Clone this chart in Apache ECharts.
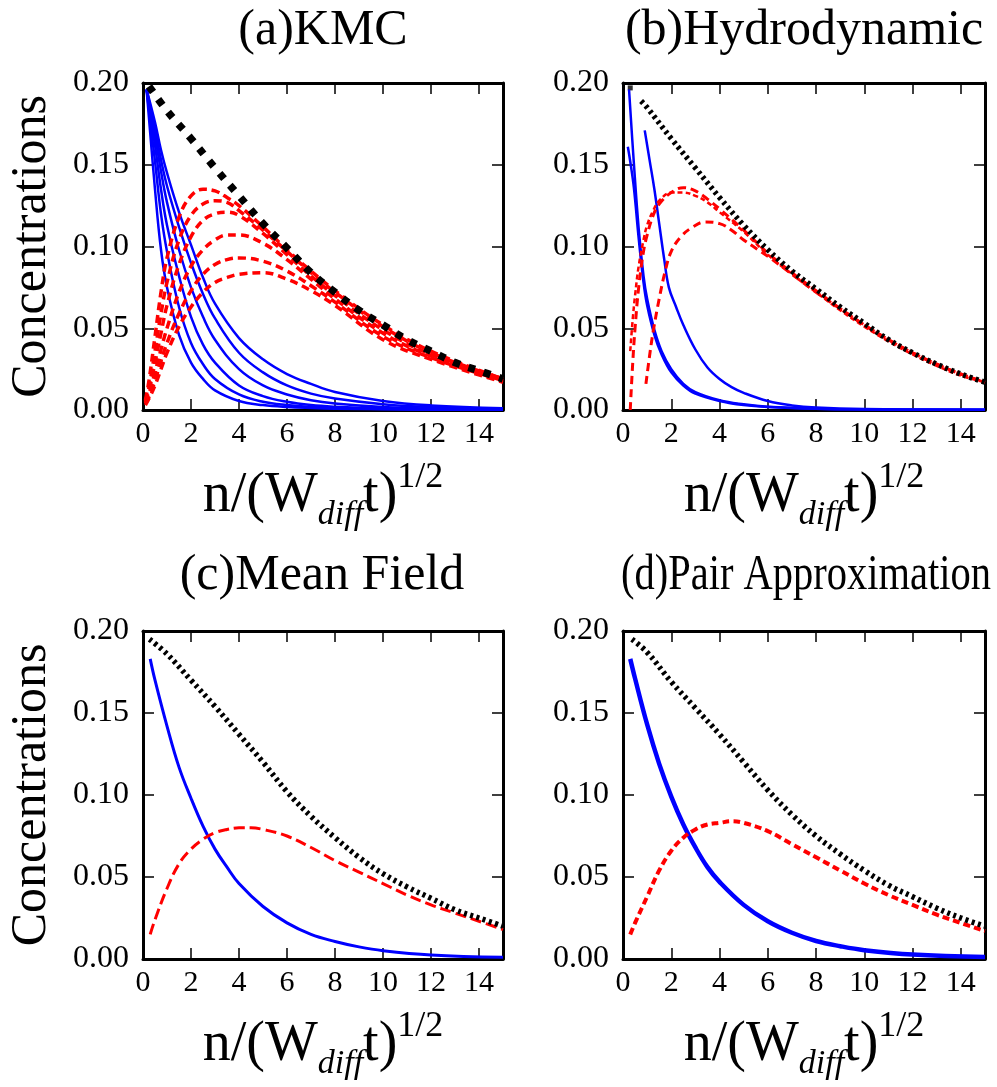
<!DOCTYPE html>
<html>
<head>
<meta charset="utf-8">
<script src="https://cdn.jsdelivr.net/npm/echarts@6/dist/echarts.min.js"></script>
<style>
html,body{margin:0;padding:0;background:#fff;}
#chart{width:997px;height:1087px;}
</style>
</head>
<body>
<div id="chart"></div>
<script>
// ---------- Panel titles and axis text ----------
const panelTitles = ['(a)KMC', '(b)Hydrodynamic', '(c)Mean Field', '(d)Pair Approximation'];
const yAxisTitle = 'Concentrations';
const xAxisTitle = '{a|n/(W}{s|diff}{a|t)}{p|1/2}';

// ---------- (a) KMC ----------
const aBlueX = [0.15, 0.5, 0.75, 1, 1.5, 2, 2.5, 3, 4, 5, 6, 7, 8, 10, 12, 15];
const aBlue1 = [0.196, 0.135, 0.098, 0.075, 0.046, 0.029, 0.019, 0.012, 0.0055, 0.003, 0.0018, 0.0012, 0.0008, 0.0004, 0.0002, 0.0001];
const aBlue2 = [0.196, 0.152, 0.120, 0.097, 0.063, 0.041, 0.028, 0.019, 0.0095, 0.005, 0.003, 0.002, 0.0013, 0.0006, 0.0003, 0.0001];
const aBlue3 = [0.196, 0.162, 0.135, 0.113, 0.082, 0.057, 0.040, 0.029, 0.015, 0.0085, 0.005, 0.003, 0.002, 0.0009, 0.0004, 0.0002];
const aBlue4 = [0.196, 0.168, 0.146, 0.127, 0.098, 0.075, 0.057, 0.043, 0.025, 0.015, 0.0095, 0.006, 0.004, 0.0018, 0.0008, 0.0003];
const aBlue5 = [0.196, 0.172, 0.153, 0.137, 0.112, 0.090, 0.071, 0.056, 0.035, 0.023, 0.015, 0.010, 0.007, 0.0035, 0.0017, 0.0006];
const aBlue6 = [0.196, 0.176, 0.159, 0.145, 0.121, 0.101, 0.081, 0.065, 0.044, 0.031, 0.022, 0.016, 0.011, 0.0055, 0.0028, 0.001];

const aRedX = [0.1, 0.25, 0.5, 0.75, 1, 1.5, 2, 2.5, 3, 3.5, 4, 5, 6, 7, 8, 10, 12, 15];
const aRed1 = [0.006, 0.018, 0.045, 0.072, 0.093, 0.118, 0.131, 0.135, 0.134, 0.130, 0.125, 0.112, 0.098, 0.085, 0.073, 0.052, 0.036, 0.019];
const aRed2 = [0.005, 0.014, 0.036, 0.059, 0.078, 0.104, 0.119, 0.126, 0.128, 0.127, 0.122, 0.110, 0.097, 0.084, 0.072, 0.051, 0.035, 0.019];
const aRed3 = [0.005, 0.012, 0.029, 0.047, 0.064, 0.089, 0.106, 0.116, 0.120, 0.121, 0.119, 0.108, 0.095, 0.082, 0.070, 0.049, 0.034, 0.019];
const aRed4 = [0.004, 0.010, 0.023, 0.037, 0.050, 0.072, 0.088, 0.098, 0.104, 0.107, 0.107, 0.102, 0.092, 0.080, 0.068, 0.047, 0.033, 0.018];
const aRed5 = [0.004, 0.008, 0.018, 0.030, 0.041, 0.059, 0.073, 0.083, 0.089, 0.092, 0.093, 0.091, 0.085, 0.076, 0.066, 0.045, 0.032, 0.018];
const aRed6 = [0.003, 0.007, 0.015, 0.025, 0.035, 0.051, 0.063, 0.072, 0.078, 0.081, 0.083, 0.084, 0.080, 0.073, 0.064, 0.043, 0.031, 0.017];

const aBlackX = [0.25, 1, 2, 3, 4, 5, 6, 7, 8, 9, 10, 11, 12, 13, 14, 15];
const aBlack  = [0.198, 0.183, 0.166, 0.148, 0.131, 0.114, 0.099, 0.084, 0.072, 0.061, 0.052, 0.043, 0.036, 0.029, 0.024, 0.019];

// ---------- (b) Hydrodynamic ----------
const bBlue1X = [0.25, 0.45, 0.65, 0.85, 1, 1.3, 1.6, 2, 2.5, 3, 4, 5, 6, 8, 10, 15];
const bBlue1  = [0.196, 0.151, 0.111, 0.082, 0.068, 0.049, 0.036, 0.025, 0.016, 0.011, 0.006, 0.0035, 0.002, 0.0008, 0.0004, 0.0001];
const bBlue2X = [0.2, 0.3, 0.45, 0.65, 0.85, 1, 1.3, 1.6, 2, 2.5, 3, 4, 5, 6, 8, 10, 15];
const bBlue2  = [0.161, 0.152, 0.136, 0.105, 0.078, 0.064, 0.046, 0.034, 0.023, 0.015, 0.010, 0.0055, 0.003, 0.0018, 0.0007, 0.0003, 0.0001];
const bBlue3X = [0.9, 1.1, 1.3, 1.5, 1.7, 1.9, 2.2, 2.5, 3, 3.5, 4, 4.5, 5, 6, 7, 8, 10, 15];
const bBlue3  = [0.171, 0.153, 0.135, 0.114, 0.093, 0.075, 0.063, 0.052, 0.037, 0.026, 0.019, 0.014, 0.0105, 0.0055, 0.0028, 0.0015, 0.0006, 0.0001];

const bRed12X = [0.3, 0.4, 0.5, 0.65, 0.85, 1, 1.25, 1.5, 2, 2.5, 3, 3.5, 4, 5, 6, 7, 8, 9, 10, 11, 12, 13, 14, 15];
const bRed1   = [0.0, 0.028, 0.05, 0.075, 0.097, 0.107, 0.119, 0.126, 0.133, 0.136, 0.134, 0.129, 0.123, 0.110, 0.096, 0.084, 0.073, 0.062, 0.052, 0.043, 0.035, 0.028, 0.022, 0.017];
const bRed2   = [0.036, 0.055, 0.070, 0.088, 0.104, 0.113, 0.122, 0.128, 0.133, 0.133, 0.131, 0.127, 0.121, 0.109, 0.095, 0.083, 0.072, 0.061, 0.051, 0.042, 0.034, 0.027, 0.021, 0.017];
const bRed3X  = [0.95, 1.1, 1.25, 1.5, 1.75, 2, 2.4, 2.9, 3.4, 4, 4.5, 5, 6, 7, 8, 9, 10, 11, 12, 13, 14, 15];
const bRed3   = [0.016, 0.033, 0.048, 0.068, 0.085, 0.097, 0.106, 0.112, 0.115, 0.114, 0.110, 0.104, 0.094, 0.083, 0.072, 0.062, 0.052, 0.043, 0.035, 0.028, 0.022, 0.017];

const bBlackStart = [[0.3, 0.197]];
const bBlackX = [0.75, 1, 2, 3, 4, 5, 6, 7, 8, 9, 10, 11, 12, 13, 14, 15];
const bBlack  = [0.189, 0.185, 0.166, 0.148, 0.130, 0.113, 0.098, 0.085, 0.074, 0.063, 0.053, 0.043, 0.035, 0.028, 0.022, 0.017];

// ---------- (c) Mean Field ----------
const cBlueX = [0.3, 0.5, 1, 1.5, 2, 2.5, 3, 3.5, 4, 5, 6, 7, 8, 9, 10, 12, 15];
const cBlue  = [0.183, 0.170, 0.142, 0.117, 0.098, 0.081, 0.067, 0.056, 0.046, 0.032, 0.022, 0.015, 0.0107, 0.0074, 0.0051, 0.0025, 0.001];
const cRedX  = [0.3, 0.5, 1, 1.5, 2, 2.5, 3, 3.5, 4, 4.5, 5, 6, 7, 8, 9, 10, 11, 12, 13, 14, 15];
const cRed   = [0.015, 0.024, 0.043, 0.058, 0.067, 0.073, 0.077, 0.079, 0.080, 0.080, 0.079, 0.075, 0.068, 0.060, 0.053, 0.046, 0.039, 0.033, 0.028, 0.023, 0.018];
const cBlackX = [0.27, 1, 2, 3, 4, 5, 6, 7, 8, 9, 10, 11, 12, 13, 14, 15];
const cBlack  = [0.195, 0.186, 0.170, 0.154, 0.137, 0.120, 0.102, 0.087, 0.074, 0.062, 0.052, 0.044, 0.037, 0.030, 0.025, 0.020];

// ---------- (d) Pair Approximation ----------
const dBlueX = [0.3, 0.5, 1, 1.5, 2, 2.5, 3, 3.5, 4, 5, 6, 7, 8, 9, 10, 12, 15];
const dBlue  = [0.183, 0.171, 0.143, 0.119, 0.099, 0.082, 0.068, 0.056, 0.047, 0.033, 0.023, 0.016, 0.011, 0.0078, 0.0054, 0.0027, 0.0012];
const dRedX  = [0.3, 0.5, 1, 1.5, 2, 2.5, 3, 3.5, 4, 4.5, 5, 6, 7, 8, 9, 10, 11, 12, 13, 14, 15];
const dRed   = [0.015, 0.022, 0.038, 0.054, 0.066, 0.074, 0.079, 0.082, 0.083, 0.084, 0.083, 0.078, 0.070, 0.062, 0.054, 0.046, 0.039, 0.033, 0.027, 0.022, 0.017];
const dBlackX = [0.37, 1, 2, 3, 4, 5, 6, 7, 8, 9, 10, 11, 12, 13, 14, 15];
const dBlack  = [0.195, 0.187, 0.169, 0.153, 0.137, 0.120, 0.103, 0.088, 0.075, 0.064, 0.054, 0.045, 0.038, 0.031, 0.025, 0.020];

// ---------- build ----------
const FONT = '"Liberation Serif", "Times New Roman", serif';
const pairs = (xs, ys) => xs.map((x, i) => [x, ys[i]]);

const grids = [
  {left: 143, top: 83, width: 360, height: 327},
  {left: 623, top: 83, width: 362, height: 327},
  {left: 143, top: 631, width: 360, height: 328},
  {left: 623, top: 631, width: 362, height: 328}
];

const tickStyle = {show: true, inside: true, length: 11, lineStyle: {color: '#000', width: 1.5}};
const frameLine = {show: true, onZero: false, lineStyle: {color: '#000', width: 3}};
const xAxes = [], yAxes = [];
grids.forEach((g, i) => {
  xAxes.push({
    gridIndex: i, type: 'value', min: 0, max: 15, interval: 2, position: 'bottom',
    axisLine: frameLine, axisTick: tickStyle,
    axisLabel: {show: true, margin: 9, showMaxLabel: false, color: '#000', fontFamily: FONT, fontSize: 30},
    splitLine: {show: false},
    name: xAxisTitle,
    nameLocation: 'middle', nameGap: 50,
    nameTextStyle: {
      color: '#000', fontFamily: FONT, fontSize: 56,
      rich: {
        a: {fontFamily: FONT, fontSize: 56, color: '#000', lineHeight: 72, verticalAlign: 'middle'},
        s: {fontFamily: FONT, fontSize: 34, fontStyle: 'italic', color: '#000', lineHeight: 34, verticalAlign: 'bottom'},
        p: {fontFamily: FONT, fontSize: 36, color: '#000', lineHeight: 36, verticalAlign: 'top'}
      }
    }
  });
  xAxes.push({
    gridIndex: i, type: 'value', min: 0, max: 15, interval: 2, position: 'top',
    axisLine: frameLine, axisTick: tickStyle,
    axisLabel: {show: false}, splitLine: {show: false}
  });
  yAxes.push({
    gridIndex: i, type: 'value', min: 0, max: 0.2, interval: 0.05, position: 'left',
    axisLine: frameLine, axisTick: tickStyle,
    axisLabel: {show: true, margin: 14, color: '#000', fontFamily: FONT, fontSize: 32,
      formatter: v => v.toFixed(2)},
    splitLine: {show: false},
    name: (i % 2 === 0) ? yAxisTitle : '', nameLocation: 'middle', nameGap: 86, nameRotate: 90,
    nameTextStyle: {color: '#000', fontFamily: FONT, fontSize: 50}
  });
  yAxes.push({
    gridIndex: i, type: 'value', min: 0, max: 0.2, interval: 0.05, position: 'right',
    axisLine: frameLine, axisTick: tickStyle,
    axisLabel: {show: false}, splitLine: {show: false}
  });
});

function line(g, data, color, width, type) {
  return {
    type: 'line', xAxisIndex: 2 * g, yAxisIndex: 2 * g, data: data,
    showSymbol: false, symbol: 'none', smooth: 0.4, clip: true, silent: true,
    lineStyle: {color: color, width: width, type: type, cap: 'butt', join: 'round'}
  };
}
const BLUE = '#0000ff', RED = '#ff0000', BLACK = '#000000';
const series = [];
// (a)
[aBlue1, aBlue2, aBlue3, aBlue4, aBlue5, aBlue6].forEach(v => series.push(line(0, pairs(aBlueX, v), BLUE, 2.5, 'solid')));
[aRed1, aRed2, aRed3, aRed4, aRed5, aRed6].forEach(v => series.push(line(0, pairs(aRedX, v), RED, 3.5, [8, 5])));
series.push(line(0, pairs(aBlackX, aBlack), BLACK, 7.5, [7, 9]));
// (b)
series.push(line(1, pairs(bBlue1X, bBlue1), BLUE, 2.5, 'solid'));
series.push(line(1, pairs(bBlue2X, bBlue2), BLUE, 2.5, 'solid'));
series.push(line(1, pairs(bBlue3X, bBlue3), BLUE, 2.5, 'solid'));
series.push(line(1, pairs(bRed12X, bRed1), RED, 3, [8, 5]));
series.push(line(1, pairs(bRed12X, bRed2), RED, 2.5, [5, 3]));
series.push(line(1, pairs(bRed3X, bRed3), RED, 3, [8, 5]));
series.push(line(1, pairs(bBlackX, bBlack), BLACK, 5.5, [3, 3.5]));
series.push({type: 'scatter', xAxisIndex: 2, yAxisIndex: 2, data: bBlackStart, symbol: 'rect',
  symbolSize: [5, 5], itemStyle: {color: BLACK}, silent: true});
// (c)
series.push(line(2, pairs(cBlueX, cBlue), BLUE, 3, 'solid'));
series.push(line(2, pairs(cRedX, cRed), RED, 3, [11, 5]));
series.push(line(2, pairs(cBlackX, cBlack), BLACK, 5.5, [3, 3.5]));
// (d)
series.push(line(3, pairs(dBlueX, dBlue), BLUE, 4.5, 'solid'));
series.push(line(3, pairs(dRedX, dRed), RED, 4, [7, 4]));
series.push(line(3, pairs(dBlackX, dBlack), BLACK, 5.5, [3, 3.5]));

// panel titles: centre x, centre y, horizontal squeeze
const titlePlace = [[323, 31, 1], [804, 31, 1], [322, 576, 1], [806, 576, 0.81]];
const titleGraphics = panelTitles.map((t, i) => ({
  type: 'text', x: titlePlace[i][0], y: titlePlace[i][1],
  scaleX: titlePlace[i][2], scaleY: 1,
  style: {text: t, font: '50px ' + FONT, fill: '#000', textAlign: 'center', textVerticalAlign: 'middle'},
  silent: true
}));

const chart = echarts.init(document.getElementById('chart'), null, {renderer: 'canvas'});
chart.setOption({
  animation: false,
  backgroundColor: '#ffffff',
  graphic: titleGraphics,
  grid: grids.map(g => Object.assign({containLabel: false}, g)),
  xAxis: xAxes,
  yAxis: yAxes,
  series: series
});
</script>
</body>
</html>
